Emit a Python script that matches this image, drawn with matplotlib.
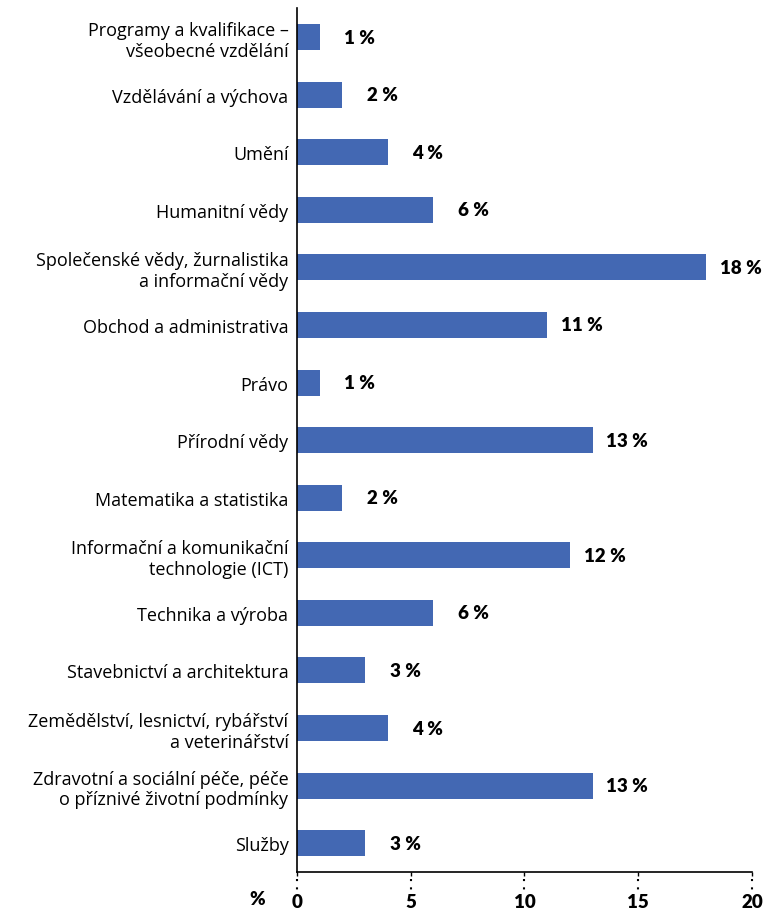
import matplotlib
matplotlib.use("Agg")
import matplotlib.pyplot as plt
from matplotlib.lines import Line2D

plt.rcParams['font.family'] = ['Open Sans', 'DejaVu Sans']

# data
categories = [
    "Programy a kvalifikace –\nvšeobecné vzdělání",
    "Vzdělávání a výchova",
    "Umění",
    "Humanitní vědy",
    "Společenské vědy, žurnalistika\na informační vědy",
    "Obchod a administrativa",
    "Právo",
    "Přírodní vědy",
    "Matematika a statistika",
    "Informační a komunikační\ntechnologie (ICT)",
    "Technika a výroba",
    "Stavebnictví a architektura",
    "Zemědělství, lesnictví, rybářství\na veterinářství",
    "Zdravotní a sociální péče, péče\no příznivé životní podmínky",
    "Služby",
]
values = [1, 2, 4, 6, 18, 11, 1, 13, 2, 12, 6, 3, 4, 13, 3]
xticks = [0, 5, 10, 15, 20]

fig = plt.figure(figsize=(7.65, 9.12), dpi=100)
ax = fig.add_axes([0.388, 0.0428, 0.595, 0.947])

y = list(range(len(categories)))
ax.barh(y, values, height=0.45, color="#4368b3")
ax.set_ylim(len(categories) - 0.5, -0.5)
ax.set_xlim(0, 20)

for yi, v in zip(y, values):
    ax.annotate(f"{v} %", (v, yi), xytext=(40, 0), textcoords="offset points",
                va="center", ha="right", fontsize=13.5, fontweight="heavy",
                family=["Lato", "DejaVu Sans"])

ax.set_yticks(y)
ax.set_yticklabels(categories, fontsize=13, linespacing=1.2)
ax.tick_params(axis="y", length=0, pad=6)

ax.set_xticks(xticks)
ax.set_xticklabels([str(t) for t in xticks], fontsize=13.5, fontweight="heavy",
                   family=["Lato", "DejaVu Sans"])
ax.tick_params(axis="x", length=3, width=1.0, pad=12, direction="out")

# dotted tick extensions below axis
for t in xticks:
    ln = Line2D([t, t], [-0.008, -0.022], transform=ax.get_xaxis_transform(),
                color="black", linestyle=(0, (1, 3)), linewidth=1.5, clip_on=False)
    ax.add_line(ln)

ax.text(-0.086, -0.031, "%", transform=ax.transAxes, ha="center", va="center",
        fontsize=13.5, fontweight="heavy", family=["Lato", "DejaVu Sans"])

for s in ["top", "right"]:
    ax.spines[s].set_visible(False)
ax.spines["left"].set_linewidth(1.2)
ax.spines["bottom"].set_linewidth(1.2)

plt.savefig("out.png", dpi=100)
